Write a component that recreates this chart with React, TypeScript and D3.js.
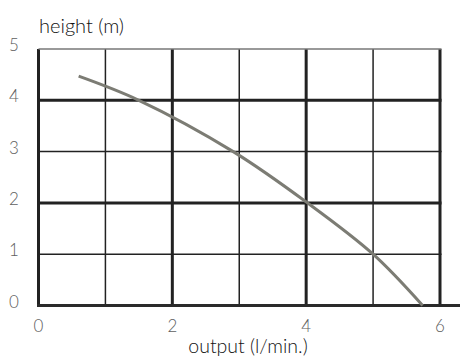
import React from "react"
import * as d3 from "d3"

// pump curve: output (l/min.) vs height (m)
const flow = [0.6, 1.5, 2.91, 4.02, 5.0, 5.74]
const head = [4.47, 4.0, 3.0, 2.0, 1.0, 0]

const xTicks = [0, 2, 4, 6]
const xGrid = [0, 1, 2, 3, 4, 5, 6]
const yTicks = [0, 1, 2, 3, 4, 5]

const W = 460, H = 363
const margin = { top: 49, right: 20, bottom: 57.5, left: 38.5 }

export default function App() {
  const x = d3.scaleLinear().domain([0, 6]).range([margin.left, W - margin.right])
  const y = d3.scaleLinear().domain([0, 5]).range([H - margin.bottom, margin.top])

  const line = d3.line<number>()
    .x((_, i) => x(flow[i]))
    .y(d => y(d))
    .curve(d3.curveCatmullRom)

  const font = "Lato, 'Open Sans', sans-serif"

  return (
    <svg width={W} height={H} style={{ position: "absolute", left: 0, top: 0 }} fontFamily={font} fontWeight={300}>
      {/* vertical grid */}
      {xGrid.map(v => (
        <line key={"vx" + v} x1={x(v)} x2={x(v)} y1={y(5)} y2={y(0)}
          stroke="#222" strokeWidth={v % 2 === 0 ? 3 : 1.5} />
      ))}
      {/* horizontal grid */}
      {yTicks.filter(v => v > 0).map(v => (
        <line key={"hy" + v} x1={x(0)} x2={x(6) + 1.5} y1={y(v)} y2={y(v)}
          stroke={v === 5 ? "#777" : "#222"} strokeWidth={v === 5 ? 1.5 : v % 2 === 0 ? 3 : 1.5} />
      ))}
      {/* x axis */}
      <line x1={x(0) - 1.5} x2={W} y1={y(0)} y2={y(0)} stroke="#2a2a2a" strokeWidth={3} />

      <path d={line(head) || ""} fill="none" stroke="#7c7c74" strokeWidth={3} />

      <g fill="#606060" fontSize={17}>
        {yTicks.map(v => (
          <text key={"yl" + v} x={14} y={y(v) + 2} textAnchor="middle">{v}</text>
        ))}
        {xTicks.map(v => (
          <text key={"xl" + v} x={x(v)} y={332} textAnchor="middle">{v}</text>
        ))}
      </g>
      <text x={39} y={33} fontSize={20} fill="#111">height (m)</text>
      <text x={248} y={353} textAnchor="middle" fontSize={19.5} fill="#111">output (l/min.)</text>
    </svg>
  )
}
